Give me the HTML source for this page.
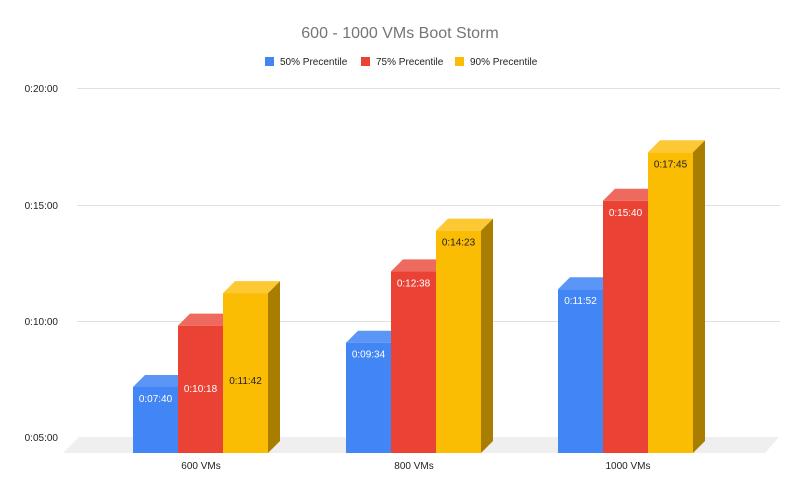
<!DOCTYPE html><html><head><style>body{margin:0;background:#fff}svg{display:block;font-family:"Liberation Sans",Arial,sans-serif}</style></head><body>
<svg width="800" height="493" viewBox="0 0 800 493">
<text x="400" y="38" text-anchor="middle" font-size="16" fill="#757575">600 - 1000 VMs Boot Storm</text>
<rect x="265" y="57" width="9" height="9" fill="#4285f4"/><text x="280" y="65" font-size="10" fill="#222">50% Precentile</text>
<rect x="361" y="57" width="9" height="9" fill="#ea4335"/><text x="376" y="65" font-size="10" fill="#222">75% Precentile</text>
<rect x="455" y="57" width="9" height="9" fill="#fbbc04"/><text x="470" y="65" font-size="10" fill="#222">90% Precentile</text>
<g stroke="#e0e0e0" stroke-width="1">
<line x1="77" y1="88.5" x2="780" y2="88.5"/><line x1="77" y1="205.5" x2="780" y2="205.5"/><line x1="77" y1="321.5" x2="780" y2="321.5"/>
</g>
<g font-size="10" fill="#222" text-anchor="end">
<text x="58" y="92">0:20:00</text><text x="58" y="209">0:15:00</text><text x="58" y="325">0:10:00</text><text x="58" y="441">0:05:00</text>
</g>
<polygon points="79,437 779,437 765,453 63,453" fill="#efefef"/>
<g id="bars"></g>
<g font-size="10" fill="#222" text-anchor="middle">
<text x="201" y="469">600 VMs</text><text x="414" y="469">800 VMs</text><text x="628" y="469">1000 VMs</text>
</g>
</svg>
<script>
var g=document.getElementById('bars'),ns='http://www.w3.org/2000/svg';
var groups=[[133,[7+40/60,10+18/60,11+42/60],['0:07:40','0:10:18','0:11:42'],[402,392,384]],[346,[9+34/60,12+38/60,14+23/60],['0:09:34','0:12:38','0:14:23'],[0,0,0]],[558,[11+52/60,15+40/60,17+45/60],['0:11:52','0:15:40','0:17:45'],[0,0,0]]];
var cols=[['#4285f4','#5b95f5','#3367c6','#fff'],['#ea4335','#ee6a5e','#b3352b','#fff'],['#fbbc04','#fcc934','#a87d00','#222']];
function P(pts,f){var p=document.createElementNS(ns,'polygon');p.setAttribute('points',pts);p.setAttribute('fill',f);g.appendChild(p);}
groups.forEach(function(gr){for(var i=0;i<3;i++){var x=gr[0]+i*45,w=45,y=449-(gr[1][i]-5)*23.27,b=453,d=12,c=cols[i];
P((x+w)+','+y+' '+(x+w+d)+','+(y-d)+' '+(x+w+d)+','+(b-d)+' '+(x+w)+','+b,c[2]);
P(x+','+y+' '+(x+d)+','+(y-d)+' '+(x+w+d)+','+(y-d)+' '+(x+w)+','+y,c[1]);
var r=document.createElementNS(ns,'rect');r.setAttribute('x',x);r.setAttribute('y',y);r.setAttribute('width',w);r.setAttribute('height',b-y);r.setAttribute('fill',c[0]);g.appendChild(r);
var t=document.createElementNS(ns,'text');t.setAttribute('x',x+w/2);t.setAttribute('y',gr[3][i]||(y+15));t.setAttribute('text-anchor','middle');t.setAttribute('font-size','10');t.setAttribute('fill',c[3]);t.textContent=gr[2][i];g.appendChild(t);}});
</script>
</body></html>
